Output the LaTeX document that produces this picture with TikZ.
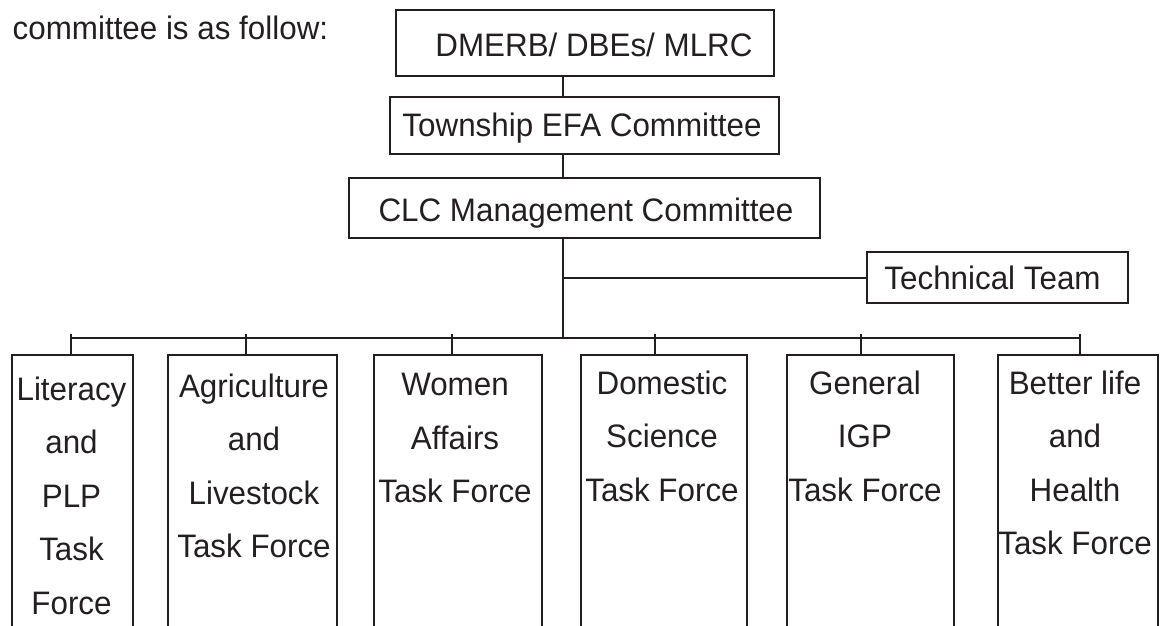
\documentclass[tikz,border=0pt]{standalone}
\usepackage{fontspec}
\setmainfont{Liberation Sans}[FakeStretch=0.965]
\definecolor{inkc}{HTML}{231F20}
\begin{document}
\begin{tikzpicture}[x=1pt,y=-1pt,
  box/.style={draw=inkc, line width=2pt, rectangle, inner sep=0pt},
  txt/.style={text=inkc, inner sep=0pt, font=\fontsize{32.5}{53.5}\selectfont},
  stack/.style={txt, align=center, anchor=north},
  link/.style={draw=inkc, line width=2pt}]
\useasboundingbox (0,0) rectangle (1165,626);
\clip (0,0) rectangle (1165,626);

% lead-in sentence
\node[txt, anchor=base west] (intro) at (12.5,40) {committee is as follow:};

% upper chain of command
\node[box, minimum width=378pt, minimum height=66pt] (dmerb) at (585,43) {};
\node[txt, anchor=base] (tdmerb) at (594,56.7) {DMERB/ DBEs/ MLRC};
\node[box, minimum width=389pt, minimum height=57.6pt] (town) at (584.5,125.5) {};
\node[txt, anchor=base] (ttown) at (582,136.7) {Township EFA Committee};
\node[box, minimum width=470.7pt, minimum height=60pt] (clc) at (584.7,208.3) {};
\node[txt, anchor=base] (tclc) at (586,221.7) {CLC Management Committee};
\node[box, minimum width=261.6pt, minimum height=51.6pt] (tech) at (997.5,277.5) {};
\node[txt, anchor=base] (ttech) at (992.5,289.5) {Technical Team};

% task force columns (open at the bottom edge)
\node[box, minimum width=121.6pt, minimum height=345pt] (lit) at (72.5,527.5) {};
\node[box, minimum width=168.7pt, minimum height=345pt] (agr) at (252.7,527.5) {};
\node[box, minimum width=167.7pt, minimum height=345pt] (wom) at (458.2,527.5) {};
\node[box, minimum width=166.6pt, minimum height=345pt] (dom) at (664,527.5) {};
\node[box, minimum width=167.3pt, minimum height=345pt] (gen) at (870.4,527.5) {};
\node[box, minimum width=159.3pt, minimum height=345pt] (bet) at (1078,527.5) {};

\node[stack] (tlit) at (71.5,376.7) {Literacy\\and\\PLP\\Task\\Force};
\node[stack] (tagr) at (254,373.7) {Agriculture\\and\\Livestock\\Task Force};
\node[stack] (twom) at (455,373.4) {Women\\Affairs\\Task Force};
\node[stack] (tdom) at (662,370.7) {Domestic\\Science\\Task Force};
\node[stack] (tgen) at (865,370.7) {General\\IGP\\Task Force};
\node[stack] (tbet) at (1075,370.7) {Better life\\and\\Health\\Task Force};

% connectors
\coordinate (trunk) at (562.7,0);
\coordinate (busL) at (70.7,338);
\coordinate (busR) at (1080,338);
\draw[link] (dmerb.south -| trunk) -- (town.north -| trunk);
\draw[link] (town.south -| trunk) -- (clc.north -| trunk);
\draw[link] (clc.south -| trunk) -- (busL -| trunk);
\coordinate (tj) at (trunk |- tech.west);
\draw[link] (tj) -- (tech.west);
\draw[link] (busL) -- (busR);
\foreach \n/\x in {lit/70.7, agr/246, wom/452.3, dom/655, gen/861, bet/1080}{
  \coordinate (k\n) at (\x,334.3);
  \draw[link] (k\n) -- (k\n |- \n.north);
}
\end{tikzpicture}
\end{document}
